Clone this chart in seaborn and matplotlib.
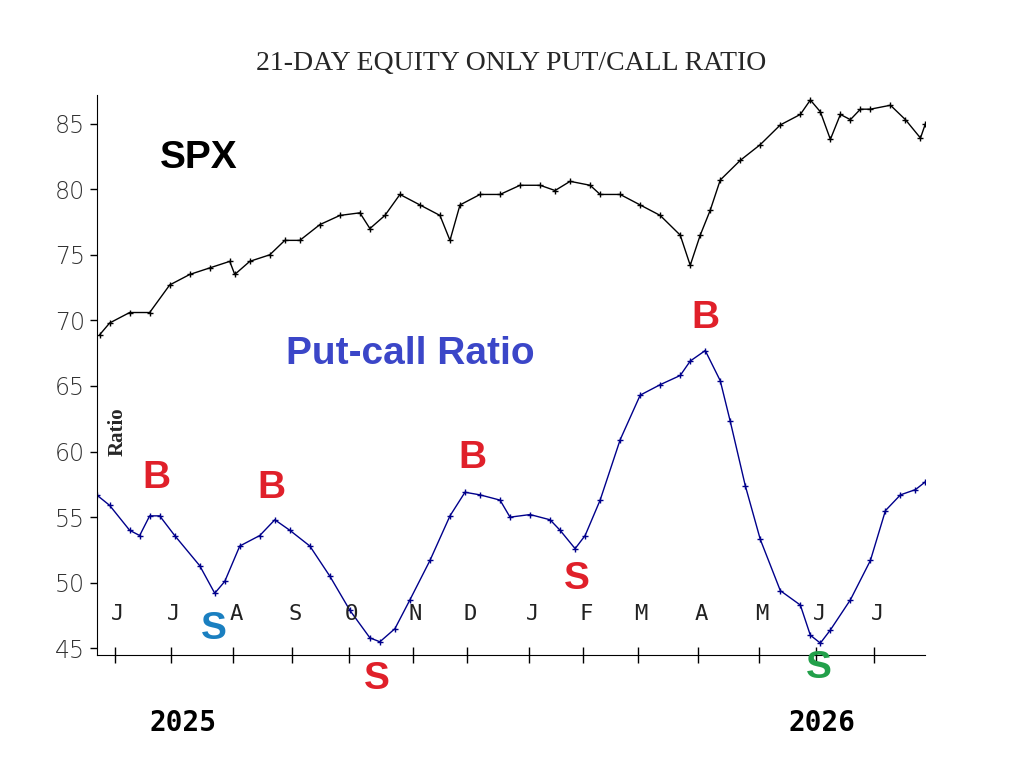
import numpy as np
import pandas as pd
import seaborn as sns
import matplotlib.pyplot as plt

# pixel readings converted to (month index, value)
spx_px = [100, 110, 130, 150, 170, 190, 210, 230, 235, 250, 270, 285, 300, 320, 340, 360, 370, 385, 400, 420,
          440, 450, 460, 480, 500, 520, 540, 555, 570, 590, 600, 620, 640, 660, 680, 690, 700, 710, 720, 740,
          760, 780, 800, 810, 820, 830, 840, 850, 860, 870, 890, 905, 920, 925]
spx_val = [68.9, 69.8, 70.6, 70.6, 72.7, 73.5, 74.0, 74.5, 73.5, 74.5, 75.0, 76.1, 76.1, 77.3, 78.0, 78.2, 77.0, 78.0, 79.6, 78.8,
           78.0, 76.1, 78.8, 79.6, 79.6, 80.3, 80.3, 79.9, 80.6, 80.3, 79.6, 79.6, 78.8, 78.0, 76.5, 74.2, 76.5, 78.4, 80.7, 82.2,
           83.4, 84.9, 85.7, 86.8, 85.9, 83.8, 85.7, 85.3, 86.1, 86.1, 86.4, 85.3, 83.9, 85.0]
pcr_px = [97, 110, 130, 140, 150, 160, 175, 200, 215, 225, 240, 260, 275, 290, 310, 330, 350, 370, 380, 395,
          410, 430, 450, 465, 480, 500, 510, 530, 550, 560, 575, 585, 600, 620, 640, 660, 680, 690, 705, 720,
          730, 745, 760, 780, 800, 810, 820, 830, 850, 870, 885, 900, 915, 925]
pcr_val = [56.7, 55.9, 54.0, 53.6, 55.1, 55.1, 53.6, 51.3, 49.2, 50.1, 52.8, 53.6, 54.8, 54.0, 52.8, 50.5, 47.9, 45.8, 45.5, 46.5,
           48.7, 51.7, 55.1, 56.9, 56.7, 56.3, 55.0, 55.2, 54.8, 54.0, 52.6, 53.6, 56.3, 60.9, 64.3, 65.1, 65.8, 66.9, 67.7, 65.4,
           62.3, 57.4, 53.3, 49.4, 48.3, 46.0, 45.4, 46.4, 48.7, 51.7, 55.5, 56.7, 57.1, 57.7]
months = ['J', 'J', 'A', 'S', 'O', 'N', 'D', 'J', 'F', 'M', 'A', 'M', 'J', 'J']
month_pos = [0, 0.96, 2.02, 3.03, 4.0, 5.09, 6.02, 7.08, 8.0, 8.94, 9.96, 11.0, 11.98, 12.97]

def to_m(px):
    return (np.array(px) - 115) / 58.5

spx = pd.DataFrame({'m': to_m(spx_px), 'v': spx_val})
pcr = pd.DataFrame({'m': to_m(pcr_px), 'v': pcr_val})

sns.set_style('white')
fig = plt.figure(figsize=(10.17, 7.58), dpi=100)
ax = fig.add_axes([0.095, 0.136, 0.815, 0.739])

sns.lineplot(data=spx, x='m', y='v', ax=ax, color='black', lw=1, marker='+', markersize=5,
             markeredgewidth=1, markeredgecolor='black')
sns.lineplot(data=pcr, x='m', y='v', ax=ax, color='#00008b', lw=1, marker='+', markersize=5,
             markeredgewidth=1, markeredgecolor='#00008b')

ax.set_xlim(to_m(97), to_m(925))
ax.set_ylim(44.5, 87.2)
ax.set_yticks([45, 50, 55, 60, 65, 70, 75, 80, 85])
ax.set_yticklabels(['45', '50', '55', '60', '65', '70', '75', '80', '85'],
                   fontsize=17, family='DejaVu Sans', color='#333333', fontweight='light')
ax.set_xticks(month_pos)
ax.set_xticklabels([])
ax.tick_params(axis='x', bottom=True, direction='inout', length=12, width=1, color='black')
ax.tick_params(axis='y', left=True, direction='out', length=5, width=1, color='black')
ax.set_xlabel('')
ax.set_ylabel('')
for s in ['top', 'right']:
    ax.spines[s].set_visible(False)
for s in ['left', 'bottom']:
    ax.spines[s].set_color('black')

for p, lab in zip(month_pos, months):
    ax.text(p + 0.05, 47.6, lab, ha='center', va='center', fontsize=16,
            family='DejaVu Sans Mono', color='#222222')

ax.set_title('21-DAY EQUITY ONLY PUT/CALL RATIO', fontsize=20, family='Liberation Serif', pad=18)
ax.text(to_m(118), 61.5, 'Ratio', rotation=90, fontsize=15, family='Liberation Serif',
        fontweight='bold', ha='center', va='center')
ax.text(to_m(160), 82.4, 'SPX', fontsize=28, fontweight='bold', family='Liberation Sans',
        color='black', va='center')
ax.text(to_m(410), 67.4, 'Put-call Ratio', fontsize=28, fontweight='bold', family='Liberation Sans',
        color='#3b46c8', ha='center', va='center')

marks = [(157, 58.0, 'B', '#e0202a'), (214, 46.5, 'S', '#1a7fc0'), (272, 57.2, 'B', '#e0202a'),
         (377, 42.7, 'S', '#e0202a'), (472, 59.5, 'B', '#e0202a'), (577, 50.3, 'S', '#e0202a'),
         (705, 70.2, 'B', '#e0202a'), (818, 43.5, 'S', '#22a04a')]
for px, y, t, c in marks:
    ax.text(to_m(px), y, t, fontsize=28, fontweight='bold', family='Liberation Sans', color=c,
            ha='center', va='center', clip_on=False)

for px, t in [(183, '2025'), (822, '2026')]:
    ax.text(to_m(px), 39.3, t, fontsize=20, fontweight='bold', family='DejaVu Sans Mono',
            color='black', ha='center', va='center', clip_on=False)

fig.savefig('out.png', dpi=100)
